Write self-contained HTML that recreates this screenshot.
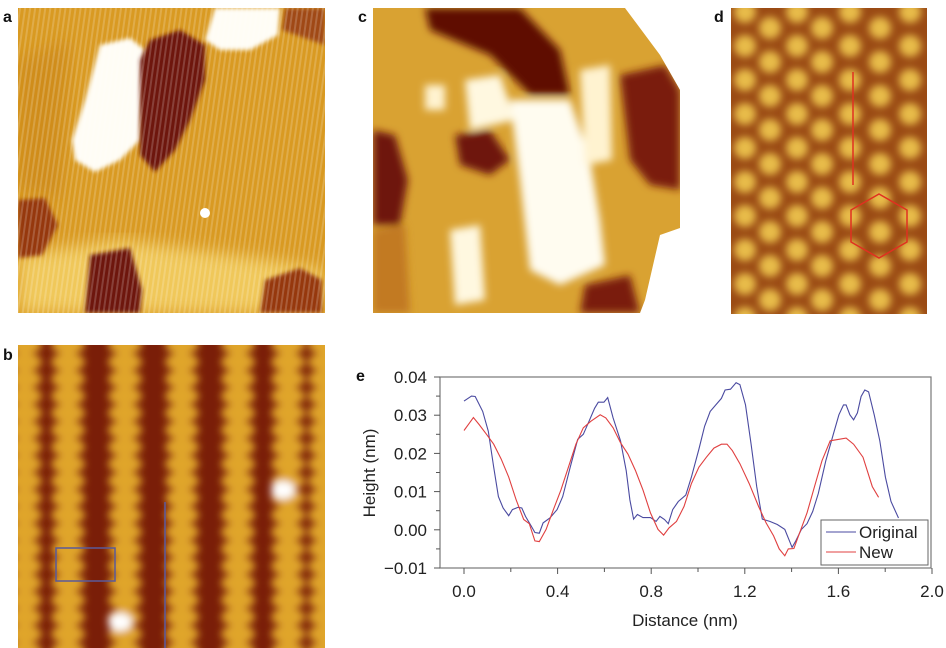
<!DOCTYPE html>
<html><head><meta charset="utf-8"><style>
html,body{margin:0;padding:0;background:#fff;}
svg{display:block;font-family:"Liberation Sans",sans-serif;}
</style></head><body>
<svg id="fig" width="946" height="648" viewBox="0 0 946 648">
<defs>
<filter id="bl2"><feGaussianBlur stdDeviation="2"/></filter>
<filter id="bl4"><feGaussianBlur stdDeviation="4"/></filter>
<filter id="bl8"><feGaussianBlur stdDeviation="8"/></filter>
<pattern id="stripesA" width="5" height="5" patternUnits="userSpaceOnUse" patternTransform="rotate(8)">
<rect width="2" height="5" fill="#fff" opacity="0.18"/></pattern>
<clipPath id="clipA"><rect x="18" y="8" width="307" height="305"/></clipPath>
<clipPath id="clipB"><rect x="18" y="345" width="307" height="303"/></clipPath>
<clipPath id="clipC"><polygon points="373,8 625,8 660,55 680,90 680,228 660,235 645,300 640,313 373,313"/></clipPath>
<clipPath id="clipD"><rect x="731" y="8" width="196" height="306"/></clipPath>
</defs>

<!-- Panel a -->
<g clip-path="url(#clipA)">
<rect x="18" y="8" width="307" height="305" fill="#d99a22"/>
<polygon points="18,255 120,240 270,260 325,270 325,313 18,313" fill="#f0c85a" filter="url(#bl8)"/>
<polygon points="18,60 70,40 60,200 18,190" fill="#c98418" filter="url(#bl8)" opacity="0.6"/>
<polygon points="100,45 130,38 145,50 140,140 120,160 95,172 75,160 72,140 85,100" fill="#fffdf5" filter="url(#bl2)"/>
<polygon points="150,40 180,30 205,45 205,80 190,120 175,150 155,172 140,155 140,60" fill="#6e1408" filter="url(#bl2)"/>
<polygon points="215,8 280,8 278,35 250,50 220,50 205,40" fill="#fffdf5" filter="url(#bl2)"/>
<polygon points="285,8 325,8 325,45 282,30" fill="#a04a14" filter="url(#bl2)"/>
<polygon points="18,200 45,198 58,225 42,255 18,258" fill="#96380f" filter="url(#bl2)"/>
<polygon points="90,255 130,248 142,290 140,313 85,313" fill="#6e1408" filter="url(#bl2)"/>
<polygon points="265,280 300,268 322,280 322,313 260,313" fill="#96380f" filter="url(#bl2)"/>
<circle cx="205" cy="213" r="5" fill="#fff"/>
<rect x="18" y="8" width="307" height="305" fill="url(#stripesA)"/>
</g>

<!-- Panel b -->
<g clip-path="url(#clipB)">
<rect x="18" y="345" width="307" height="303" fill="#7a1e08"/>
<g id="bcols" filter="url(#bl4)"></g>
<rect x="56" y="548" width="59" height="33" fill="none" stroke="#5a5a9a" stroke-width="1.5"/>
<line x1="165" y1="502" x2="165" y2="648" stroke="#5a5aa0" stroke-width="1.5"/>
</g>

<!-- Panel c -->
<g clip-path="url(#clipC)">
<rect x="373" y="8" width="310" height="306" fill="#d9a232"/>
<g filter="url(#bl4)">
<polygon points="425,8 520,8 560,50 570,95 530,95 490,55 430,30" fill="#5e0e04"/>
<polygon points="620,75 665,65 680,90 680,190 650,185 630,160" fill="#7a1e08"/>
<polygon points="373,130 395,135 408,180 400,225 373,225" fill="#6e1408"/>
<polygon points="455,135 490,130 510,160 490,175 460,165" fill="#6e1408"/>
<polygon points="585,285 630,275 640,313 580,313" fill="#7a1e08"/>
<polygon points="373,230 405,225 410,313 373,313" fill="#b86a1c" opacity="0.7"/>
<polygon points="510,100 570,100 590,160 600,220 605,265 560,285 530,270 520,180" fill="#fffcf0"/>
<polygon points="465,80 500,75 515,120 470,130" fill="#fff8e0"/>
<polygon points="450,230 480,225 485,300 455,305" fill="#fff8e0"/>
<polygon points="580,70 610,65 612,160 585,165" fill="#fff3d0"/>
<polygon points="425,85 445,85 445,110 425,110" fill="#fff3d0"/>
</g>
</g>

<!-- Panel d -->
<g clip-path="url(#clipD)">
<rect x="731" y="8" width="196" height="306" fill="#9a4a14"/>
<g id="ddots" filter="url(#bl4)"></g>
<line x1="853" y1="72" x2="853" y2="185" stroke="#e03020" stroke-width="1.5"/>
<polygon points="879,194 907,210 907,242 879,258 851,242 851,210" fill="none" stroke="#e03020" stroke-width="1.5"/>
</g>

<g font-weight="bold" font-size="16" fill="#111">
<text x="3" y="22">a</text>
<text x="3" y="360">b</text>
<text x="358" y="22">c</text>
<text x="714" y="22">d</text>
<text x="356" y="381">e</text>
</g>

<!-- Chart e -->
<g id="chart"></g>
</svg>
<script>
const xTicks=[0.0,0.4,0.8,1.2,1.6,2.0];
const xTickLabels=["0.0","0.4","0.8","1.2","1.6","2.0"];
const yTicks=[0.04,0.03,0.02,0.01,0.00,-0.01];
const yTickLabels=["0.04","0.03","0.02","0.01","0.00","\u22120.01"];
const origDist=[0,.032,.048,.080,.104,.127,.147,.167,.191,.207,.231,.247,.263,.287,.303,.322,.338,.367,.398,.422,.454,.486,.510,.534,.558,.574,.598,.614,.637,.669,.693,.709,.725,.741,.765,.797,.821,.837,.857,.873,.892,.916,.948,.972,1.004,1.028,1.052,1.076,1.100,1.116,1.139,1.163,1.179,1.203,1.227,1.251,1.275,1.307,1.339,1.371,1.402,1.418,1.442,1.466,1.490,1.514,1.546,1.578,1.602,1.622,1.633,1.649,1.665,1.681,1.697,1.713,1.729,1.753,1.777,1.801,1.825,1.857];
const origHeight=[.0337,.0350,.0349,.0310,.0258,.0164,.0087,.0057,.0037,.0053,.0059,.0057,.0035,.0010,-.0007,-.0009,.0018,.0031,.0053,.0087,.0164,.0237,.0250,.0284,.0318,.0334,.0334,.0346,.0293,.0233,.0155,.0078,.0028,.0040,.0032,.0032,.0022,.0035,.0027,.0016,.0053,.0074,.0091,.0138,.0211,.0271,.0310,.0327,.0344,.0366,.0368,.0385,.0380,.0327,.0224,.0113,.0028,.0022,.0014,.0001,-.0046,-.0029,.0001,.0016,.0048,.0095,.0181,.0250,.0301,.0327,.0327,.0301,.0288,.0306,.0349,.0366,.0361,.0301,.0233,.0138,.0074,.0031];
const newDist=[0,.024,.040,.064,.096,.127,.159,.191,.223,.255,.279,.303,.322,.351,.382,.414,.446,.478,.510,.542,.582,.606,.637,.669,.701,.733,.765,.797,.829,.853,.876,.908,.940,.972,1.004,1.036,1.068,1.100,1.124,1.147,1.179,1.219,1.259,1.291,1.323,1.347,1.371,1.386,1.410,1.434,1.466,1.498,1.530,1.565,1.602,1.633,1.665,1.705,1.745,1.772];
const newHeight=[.0260,.0280,.0294,.0276,.0250,.0224,.0185,.0138,.0078,.0027,.0016,-.0029,-.0031,.0001,.0053,.0104,.0164,.0224,.0267,.0284,.0301,.0293,.0267,.0228,.0198,.0155,.0104,.0044,.0001,-.0014,.0005,.0022,.0061,.0121,.0164,.0190,.0214,.0224,.0224,.0207,.0173,.0121,.0061,.0018,-.0016,-.0050,-.0068,-.0050,-.0049,-.0008,.0044,.0113,.0181,.0233,.0237,.0240,.0224,.0190,.0113,.0085];
const legendLabels=["Original","New"];

const NS="http://www.w3.org/2000/svg";
function mk(tag,attrs,parent){const e=document.createElementNS(NS,tag);for(const k in attrs)e.setAttribute(k,attrs[k]);parent.appendChild(e);return e;}
const X=v=>464+v*(468/2.0);
const Y=v=>377+(0.04-v)*(191/0.05);
const chart=document.getElementById('chart');
const L=440,R=931,T=377,B=568;
let fr=mk('rect',{x:L,y:T,width:R-L,height:B-T,fill:'none',stroke:'#777','stroke-width':1.2},chart);


xTicks.forEach((t,i)=>{
  let ln=mk('line',{x1:X(t),y1:B,x2:X(t),y2:B+6,stroke:'#555'},chart);
  
  
  if(i<xTicks.length-1){let m=mk('line',{x1:X(t+0.2),y1:B,x2:X(t+0.2),y2:B+4,stroke:'#555'},chart);
  
  }
  let tx=mk('text',{x:X(t),y:B+29,'text-anchor':'middle','font-size':17,fill:'#222'},chart);
  tx.textContent=xTickLabels[i];
  
  
});
yTicks.forEach((t,i)=>{
  let ln=mk('line',{x1:L-6,y1:Y(t),x2:L,y2:Y(t),stroke:'#555'},chart);
  
  
  if(i<yTicks.length-1){let m=mk('line',{x1:L-4,y1:Y(t-0.005),x2:L,y2:Y(t-0.005),stroke:'#555'},chart);
  
  }
  let tx=mk('text',{x:L-13,y:Y(t)+6,'text-anchor':'end','font-size':17,fill:'#222'},chart);
  tx.textContent=yTickLabels[i];
  
  
});
let xt=mk('text',{x:685,y:626,'text-anchor':'middle','font-size':17,fill:'#222'},chart);
xt.textContent='Distance (nm)';


let yt=mk('text',{x:0,y:0,'text-anchor':'middle','font-size':17,fill:'#222',transform:'translate(375,473) rotate(-90)'},chart);
yt.textContent='Height (nm)';


function line(xs,ys,col,name){
  const d=xs.map((x,i)=>(i?'L':'M')+X(x).toFixed(1)+','+Y(ys[i]).toFixed(1)).join('');
  let p=mk('path',{d:d,fill:'none',stroke:col,'stroke-width':1.1},chart);
  
  
}
line(origDist,origHeight,'#4a4aa0','series-original');
line(newDist,newHeight,'#e04040','series-new');
let lg=mk('rect',{x:821,y:520,width:107,height:45,fill:'#fff',stroke:'#666'},chart);


[['#4a4aa0',0],['#e04040',1]].forEach(([c,i])=>{
  let l=mk('line',{x1:826,y1:532+i*20,x2:856,y2:532+i*20,stroke:c},chart);
  
  
  let t=mk('text',{x:859,y:538+i*20,'font-size':17,fill:'#222'},chart);
  t.textContent=legendLabels[i];
  
  
});

// decorative textures for STM images
const bc=document.getElementById('bcols');
[20,63,120,177,233,283,320].forEach(cx=>{
  for(let y=345;y<660;y+=17){
    const off=((y/17)%2?5:-5);
    let e=mk('ellipse',{cx:cx+off,cy:y,rx:17,ry:9,fill:'#e0a52c'},bc);
    
    
  }
});
[[120,622],[283,490]].forEach(([x,y])=>{let e=mk('ellipse',{cx:x,cy:y,rx:12,ry:9,fill:'#fff'},bc);

});
const dd=document.getElementById('ddots');
[745,770,797,822,850,880,910].forEach((cx,j)=>{
  for(let y=(j%2?28:12);y<330;y+=34){
    let e=mk('ellipse',{cx:cx,cy:y,rx:11,ry:11,fill:'#e8bc48'},dd);
    
    
  }
});
</script>
</body></html>
